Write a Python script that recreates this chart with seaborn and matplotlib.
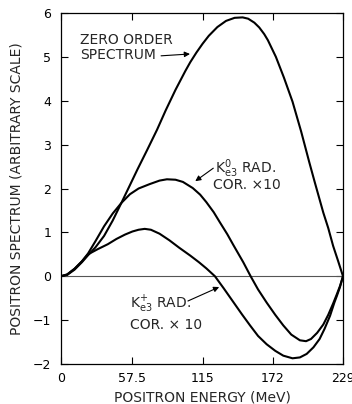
import matplotlib
matplotlib.use("Agg")
import matplotlib.pyplot as plt
import pandas as pd
import seaborn as sns

# curves (energy in MeV, spectrum in arbitrary units)
zero_x = [0, 5, 11, 17, 22, 28, 35, 42, 49, 55, 62, 70, 78, 85, 93, 101, 105, 110, 115,
          120, 127, 134, 141, 147.5, 152, 157, 161, 165, 168, 174.5, 181, 188, 195, 201.6,
          206, 210, 213, 217, 221, 225, 229]
zero_y = [0, 0.03, 0.15, 0.32, 0.48, 0.66, 0.92, 1.27, 1.67, 2.02, 2.43, 2.88, 3.34,
          3.78, 4.25, 4.68, 4.88, 5.1, 5.3, 5.48, 5.68, 5.82, 5.89, 5.9, 5.87, 5.78, 5.67,
          5.52, 5.38, 5.0, 4.53, 3.98, 3.3, 2.6, 2.15, 1.75, 1.45, 1.1, 0.69, 0.35, 0]

k0_x = [0, 5, 11, 17, 22, 28, 35, 42, 49, 56, 63, 72, 80, 86, 93, 99, 107, 113, 118,
        124, 129, 135, 140, 148, 154, 160, 167, 174, 180.5, 187, 194, 199, 203, 208,
        213, 217, 221, 224, 226.6, 229]
k0_y = [0, 0.04, 0.17, 0.34, 0.52, 0.8, 1.14, 1.43, 1.67, 1.87, 2.0, 2.1, 2.18, 2.21,
        2.2, 2.15, 2.01, 1.86, 1.69, 1.46, 1.23, 0.96, 0.71, 0.32, 0, -0.3, -0.6, -0.88,
        -1.12, -1.33, -1.46, -1.48, -1.43, -1.29, -1.1, -0.88, -0.62, -0.41, -0.22, 0]

kp_x = [0, 5, 11, 17, 22, 30, 38, 45, 52, 58, 63, 68, 73, 80, 88, 96, 105, 112, 118, 125,
        132, 140, 147, 153.5, 160, 167, 174, 180.5, 188, 194, 199.5, 205, 210, 214,
        218.5, 222, 224, 226.5, 229]
kp_y = [0, 0.04, 0.17, 0.34, 0.5, 0.62, 0.73, 0.85, 0.95, 1.02, 1.06, 1.08, 1.06, 0.97,
        0.82, 0.65, 0.47, 0.32, 0.18, 0, -0.27, -0.59, -0.87, -1.12, -1.36, -1.55, -1.7,
        -1.81, -1.87, -1.85, -1.77, -1.62, -1.43, -1.2, -0.9, -0.6, -0.45, -0.25, 0]

x_ticks = [0, 57.5, 115, 172, 229]
x_tick_labels = ["0", "57.5", "115", "172", "229"]
y_ticks = [-2, -1, 0, 1, 2, 3, 4, 5, 6]

sns.set_style("ticks")
plt.rcParams['font.family'] = ['DejaVu Sans']

fig = plt.figure(figsize=(3.52, 4.04), dpi=100)
ax = fig.add_axes([61 / 352, 1 - 364 / 404, 282 / 352, 351 / 404])

ax.axhline(0, color='#555555', lw=0.8, zorder=1)

for xs, ys in [(zero_x, zero_y), (k0_x, k0_y), (kp_x, kp_y)]:
    df = pd.DataFrame({'energy': xs, 'spectrum': ys})
    sns.lineplot(data=df, x='energy', y='spectrum', ax=ax, color='black', lw=1.5,
                 estimator=None, sort=False, zorder=3)

ax.set_xlim(0, 229)
ax.set_ylim(-2, 6)
ax.set_xticks(x_ticks)
ax.set_xticklabels(x_tick_labels)
ax.set_yticks(y_ticks)
ax.tick_params(direction='in', top=True, right=True, length=5, width=0.8,
               labelsize=9, colors='black')
ax.tick_params(axis='y', pad=7)
ax.tick_params(axis='x', pad=6)
for s in ax.spines.values():
    s.set_linewidth(0.9)
    s.set_color('black')

ax.set_xlabel("POSITRON ENERGY (MeV)", fontsize=10, labelpad=4)
ax.set_ylabel("POSITRON SPECTRUM (ARBITRARY SCALE)", fontsize=10, labelpad=7)

# annotations
ax.text(15.4, 5.3, "ZERO ORDER", fontsize=10, va='baseline', ha='left')
ax.text(15.4, 4.95, "SPECTRUM", fontsize=10, va='baseline', ha='left')
ax.annotate("", xy=(107, 5.07), xytext=(79, 5.02),
            arrowprops=dict(arrowstyle='-|>', color='black', lw=0.8, mutation_scale=8))

ax.text(125, 2.36, r"K$^{\mathregular{0}}_{\mathregular{e3}}$ RAD.", fontsize=10,
        va='baseline', ha='left')
ax.text(123.4, 1.98, "COR. ×10", fontsize=10, va='baseline', ha='left')
ax.annotate("", xy=(107.2, 2.13), xytext=(125.5, 2.5),
            arrowprops=dict(arrowstyle='-|>', color='black', lw=0.8, mutation_scale=8))

ax.text(56, -0.73, r"K$^{\mathregular{+}}_{\mathregular{e3}}$ RAD.", fontsize=10,
        va='baseline', ha='left')
ax.text(56, -1.2, "COR. × 10", fontsize=10, va='baseline', ha='left')
ax.annotate("", xy=(130.5, -0.22), xytext=(101, -0.59),
            arrowprops=dict(arrowstyle='-|>', color='black', lw=0.8, mutation_scale=8))

fig.savefig("out.png", dpi=100)
